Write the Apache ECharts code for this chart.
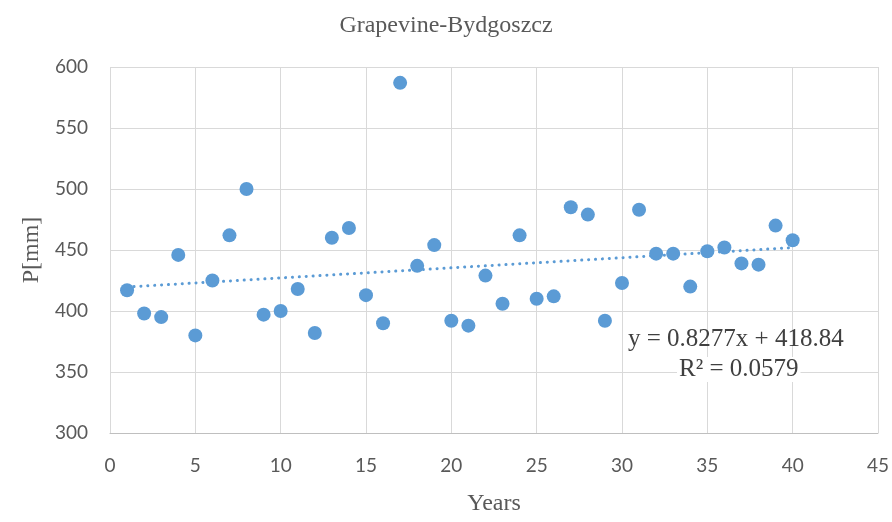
<!DOCTYPE html>
<html>
<head>
<meta charset="utf-8">
<script src="https://cdn.jsdelivr.net/npm/echarts@6/dist/echarts.min.js"></script>
<style>html,body{margin:0;padding:0;background:#fff}#c{width:892px;height:522px}</style>
</head>
<body>
<div id="c"></div>
<script>
const years = [1,2,3,4,5,6,7,8,9,10,11,12,13,14,15,16,17,18,19,20,21,22,23,24,25,26,27,28,29,30,31,32,33,34,35,36,37,38,39,40];
const precip = [417,398,395,446,380,425,462,500,397,400,418,382,460,468,413,390,587,437,454,392,388,429,406,462,410,412,485,479,392,423,483,447,447,420,449,452,439,438,470,458];
const trendX = [1, 40];
const trendY = [419.67, 451.95];
const xTicks = [0,5,10,15,20,25,30,35,40,45];
const yTicks = [300,350,400,450,500,550,600];

const serif = '"Liberation Serif", "Times New Roman", serif';
const chart = echarts.init(document.getElementById('c'));
chart.setOption({
  backgroundColor: '#ffffff',
  animation: false,
  title: {
    text: 'Grapevine-Bydgoszcz',
    left: 'center',
    top: 9,
    textStyle: {fontFamily: serif, fontSize: 24, fontWeight: 'normal', color: '#595959'}
  },
  grid: {left: 110, right: 12, top: 67, bottom: 89},
  xAxis: {
    type: 'value', min: xTicks[0], max: xTicks[xTicks.length-1], interval: 5,
    name: 'Years', nameLocation: 'middle', nameGap: 59,
    nameTextStyle: {fontFamily: serif, fontSize: 24, color: '#595959'},
    axisLine: {show: true, lineStyle: {color: '#bfbfbf', width: 1}},
    axisTick: {show: false},
    axisLabel: {margin: 23, fontFamily: 'Lato, "Liberation Sans", sans-serif', fontSize: 19, color: '#595959'},
    splitLine: {show: true, lineStyle: {color: '#d9d9d9', width: 1}}
  },
  yAxis: {
    type: 'value', min: yTicks[0], max: yTicks[yTicks.length-1], interval: 50,
    name: 'P[mm]', nameLocation: 'middle', nameGap: 66, nameRotate: 90,
    nameTextStyle: {fontFamily: serif, fontSize: 24, color: '#595959'},
    axisLine: {show: false},
    axisTick: {show: false},
    axisLabel: {margin: 22, fontFamily: 'Lato, "Liberation Sans", sans-serif', fontSize: 19, color: '#595959'},
    splitLine: {show: true, lineStyle: {color: '#d9d9d9', width: 1}}
  },
  series: [
    {
      type: 'line',
      data: trendX.map((x, i) => [x, trendY[i]]),
      symbol: 'none',
      lineStyle: {color: '#5b9bd5', width: 3, type: [0.1, 6.8], cap: 'round'},
      z: 2
    },
    {
      type: 'scatter',
      data: years.map((x, i) => [x, precip[i]]),
      symbolSize: 14,
      itemStyle: {color: '#5b9bd5', opacity: 1},
      z: 3
    }
  ],
  graphic: [
    {type: 'text', left: 628, top: 327, z: 1, style: {text: 'y = 0.8277x + 418.84', font: '25px ' + serif, fill: '#404040'}},
    {type: 'text', left: 677, top: 357, z: 1, style: {text: 'R² = 0.0579', font: '25px ' + serif, fill: '#404040', backgroundColor: '#ffffff', padding: [0, 2]}}
  ]
});
</script>
</body>
</html>
